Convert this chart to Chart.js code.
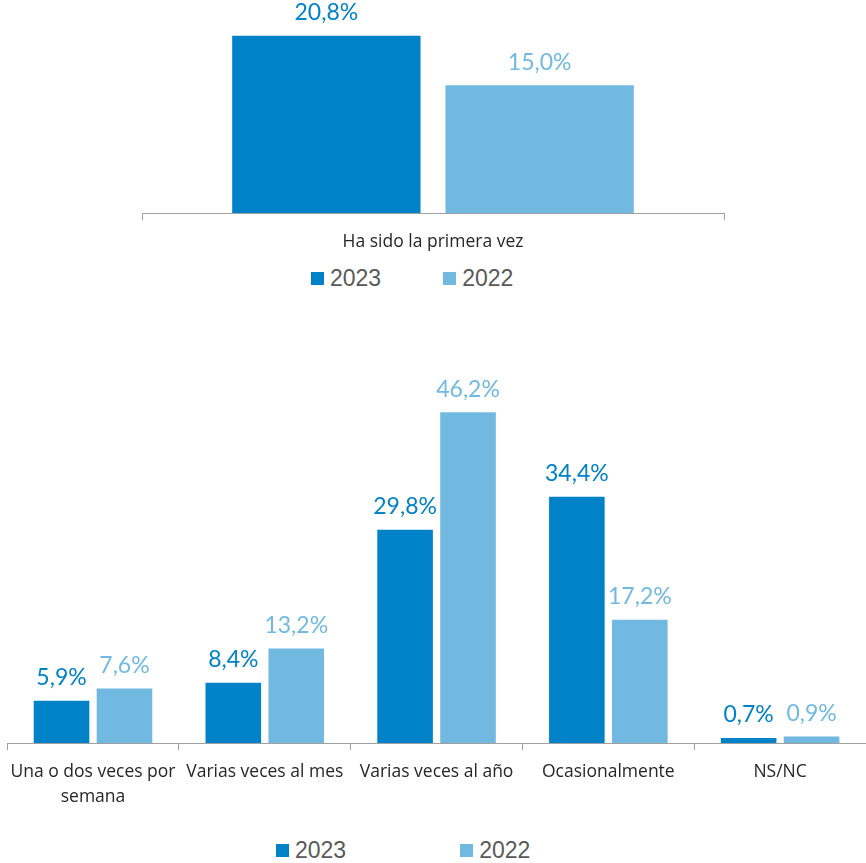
<!DOCTYPE html>
<html lang="es">
<head>
<meta charset="utf-8">
<title>Frecuencia de visita</title>
<script src="https://cdn.jsdelivr.net/npm/chart.js@4.4.1/dist/chart.umd.min.js"></script>
<style>
    html, body { margin: 0; padding: 0; background: #ffffff; }
    #wrap { position: relative; width: 866px; height: 863px; overflow: hidden; }
    .box { position: absolute; left: 0; width: 866px; }
    .legend { position: absolute; display: flex; align-items: center; font-family: "Liberation Sans", Arial, sans-serif; font-size: 23px; color: #595959; line-height: 1; }
    .legend .item { display: flex; align-items: center; }
    .legend .sq { width: 13px; height: 13px; margin-right: 6px; }
</style>
</head>
<body>
<div id="wrap">
    <div class="box" style="top:0;height:260px"><canvas id="chartTop"></canvas></div>
    <div class="legend" id="legendTop" style="left:311px;top:267px"></div>
    <div class="box" style="top:380px;height:445px"><canvas id="chartBottom"></canvas></div>
    <div class="legend" id="legendBottom" style="left:276px;top:839px"></div>
</div>
<script>
// series
const seriesNames = ['2023', '2022'];
const seriesColors = ['#0082c8', '#71b9e0'];

// primera vez
const topCategories = ['Ha sido la primera vez'];
const top2023 = [20.8];
const top2022 = [15.0];

// frecuencia
const freqCategories = [
    ['Una o dos veces por', 'semana'],
    'Varias veces al mes',
    'Varias veces al año',
    'Ocasionalmente',
    'NS/NC'
];
const freq2023 = [5.9, 8.4, 29.8, 34.4, 0.7];
const freq2022 = [7.6, 13.2, 46.2, 17.2, 0.9];

const axisGray = '#a0a0a0';

// etiquetas de valor encima de cada barra
const valueLabels = {
    id: 'valueLabels',
    afterDatasetsDraw(chart) {
        const ctx = chart.ctx;
        ctx.save();
        ctx.font = '23px Lato, sans-serif';
        ctx.textAlign = 'center';
        ctx.textBaseline = 'middle';
        chart.data.datasets.forEach((ds, i) => {
            const meta = chart.getDatasetMeta(i);
            ctx.fillStyle = ds.backgroundColor;
            meta.data.forEach((bar, j) => {
                const txt = ds.data[j].toFixed(1).replace('.', ',') + '%';
                ctx.fillText(txt, bar.x, bar.y - 23);
            });
        });
        ctx.restore();
    }
};

function makeDatasets(a, b) {
    return [a, b].map((d, i) => ({
        label: seriesNames[i],
        data: d,
        backgroundColor: seriesColors[i],
        categoryPercentage: 0.733,
        barPercentage: 0.883
    }));
}

function makeChart(id, labels, datasets, yMax, pad, axisHeight) {
    return new Chart(document.getElementById(id), {
        type: 'bar',
        data: { labels: labels, datasets: datasets },
        options: {
            responsive: true,
            maintainAspectRatio: false,
            animation: false,
            layout: { padding: pad },
            plugins: {
                legend: { display: false },
                tooltip: { enabled: false }
            },
            scales: {
                x: {
                    grid: {
                        display: true,
                        drawOnChartArea: false,
                        drawTicks: true,
                        tickLength: 7,
                        offset: true,
                        color: axisGray,
                        lineWidth: 1
                    },
                    border: { display: true, color: axisGray, width: 1 },
                    ticks: {
                        color: '#262626',
                        padding: 10,
                        maxRotation: 0,
                        autoSkip: false,
                        font: { family: '"Open Sans", sans-serif', size: 17.5, lineHeight: '25px' }
                    },
                    afterFit(scale) { scale.height = axisHeight; }
                },
                y: {
                    display: false,
                    min: 0,
                    max: yMax
                }
            }
        },
        plugins: [valueLabels]
    });
}

function buildLegend(id, gap) {
    const el = document.getElementById(id);
    seriesNames.forEach((name, i) => {
        const item = document.createElement('div');
        item.className = 'item';
        if (i > 0) item.style.marginLeft = gap + 'px';
        item.innerHTML = '<span class="sq" style="background:' + seriesColors[i] + '"></span><span>' + name + '</span>';
        el.appendChild(item);
    });
}

makeChart('chartTop', topCategories, makeDatasets(top2023, top2022), 25,
    { top: 0, left: 142, right: 142, bottom: 0 }, 47);
makeChart('chartBottom', freqCategories, makeDatasets(freq2023, freq2022), 50,
    { top: 5, left: 5, right: 0, bottom: 0 }, 82);

buildLegend('legendTop', 62);
buildLegend('legendBottom', 114);
</script>
</body>
</html>
